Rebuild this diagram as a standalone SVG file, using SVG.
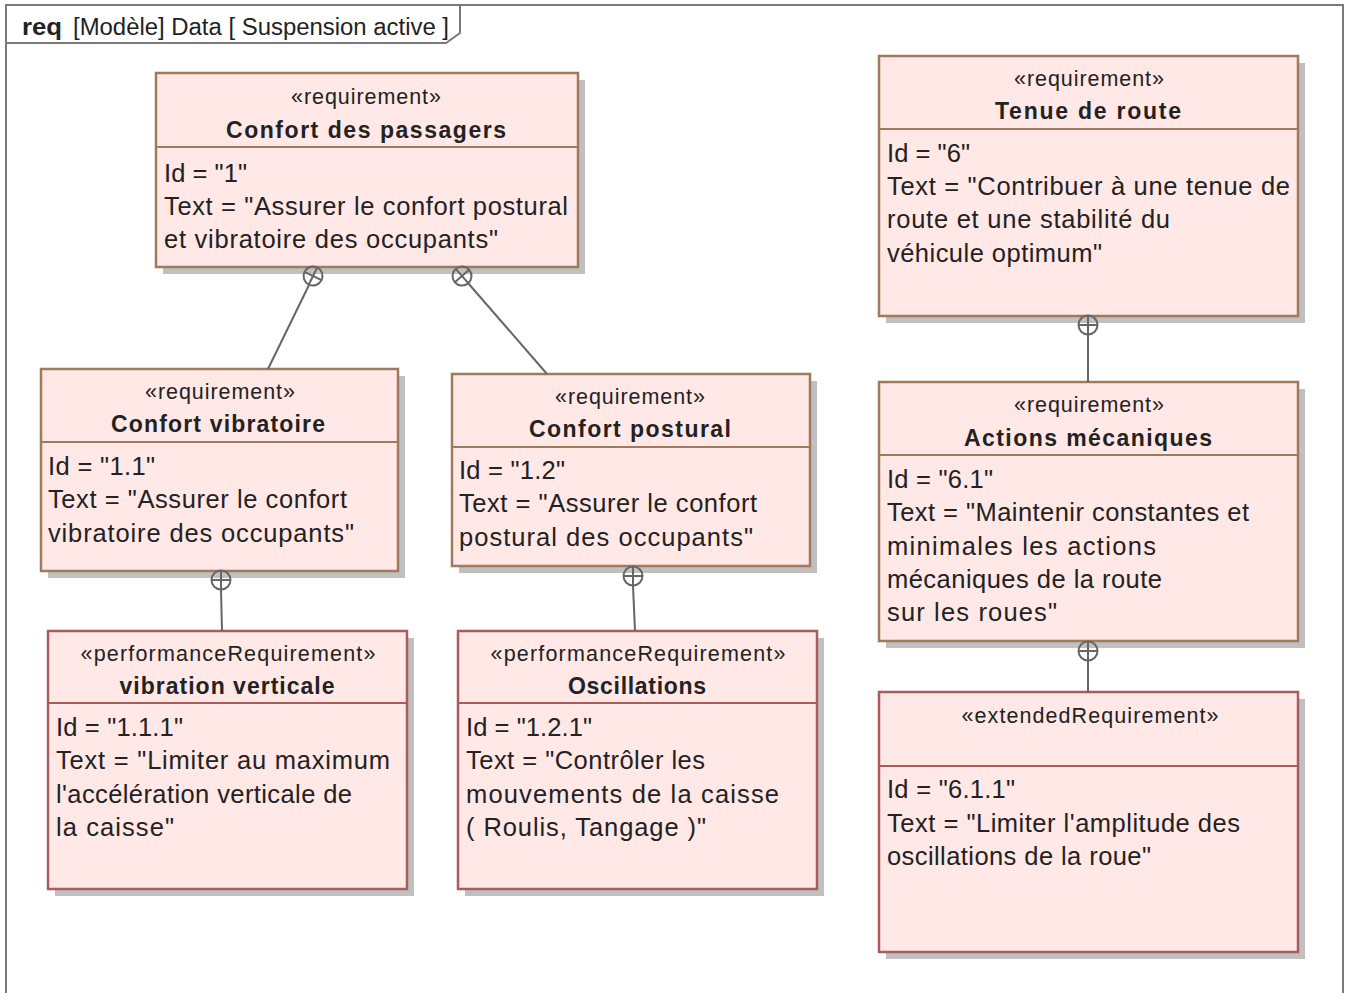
<svg xmlns="http://www.w3.org/2000/svg" width="1345" height="993" viewBox="0 0 1345 993">
<style>
.frame{fill:none;stroke:#7a7a7a;stroke-width:2}
.tab{fill:#ffffff;stroke:#7a7a7a;stroke-width:2}
.shadow{fill:#c0c0c0}
.req{fill:#ffe8e6;stroke:#a07a5c;stroke-width:2.5}
.perf{fill:#ffe8e6;stroke:#a85c5c;stroke-width:2.5}
.sepr{stroke:#a07a5c;stroke-width:2}
.sepp{stroke:#a85c5c;stroke-width:2}
text{font-family:"Liberation Sans",Arial,sans-serif;fill:#222222}
.st{font-size:21.5px;text-anchor:middle}
.nm{font-size:23px;font-weight:bold;text-anchor:middle}
.bd{font-size:25.5px}
.hd{font-size:23px}
.conn line,.conn circle{stroke:#666666;stroke-width:2;fill:none}
</style>
<g id="frame">
<path class="frame" d="M6,993 V5 H1343 V993"/>
<path class="tab" d="M6,5 H460 V33 L446,43 H6 Z"/>
<text x="22" y="35" class="hd" font-weight="bold" textLength="40" lengthAdjust="spacingAndGlyphs">req</text>
<text x="73" y="35" class="hd" textLength="376" lengthAdjust="spacingAndGlyphs">[Modèle] Data [ Suspension active ]</text>
</g>
<g id="n1">
<rect class="shadow" x="163" y="80" width="422" height="194"/>
<rect class="req" x="156" y="73" width="422" height="194"/>
<line class="sepr" x1="156" y1="147" x2="578" y2="147"/>
<text class="st" x="366" y="104" textLength="150">«requirement»</text>
<text class="nm" x="366" y="138" textLength="280">Confort des passagers</text>
<text class="bd" x="164" y="182" textLength="83">Id = "1"</text>
<text class="bd" x="164" y="215" textLength="404">Text = "Assurer le confort postural</text>
<text class="bd" x="164" y="248" textLength="334">et vibratoire des occupants"</text>
</g>
<g id="n2">
<rect class="shadow" x="48" y="376" width="357" height="202"/>
<rect class="req" x="41" y="369" width="357" height="202"/>
<line class="sepr" x1="41" y1="442" x2="398" y2="442"/>
<text class="st" x="220" y="399" textLength="150">«requirement»</text>
<text class="nm" x="218" y="432" textLength="214">Confort vibratoire</text>
<text class="bd" x="48" y="475" textLength="107">Id = "1.1"</text>
<text class="bd" x="48" y="508" textLength="299">Text = "Assurer le confort</text>
<text class="bd" x="48" y="542" textLength="306">vibratoire des occupants"</text>
</g>
<g id="n3">
<rect class="shadow" x="459" y="381" width="358" height="192"/>
<rect class="req" x="452" y="374" width="358" height="192"/>
<line class="sepr" x1="452" y1="447" x2="810" y2="447"/>
<text class="st" x="630" y="404" textLength="150">«requirement»</text>
<text class="nm" x="630" y="437" textLength="202">Confort postural</text>
<text class="bd" x="459" y="479" textLength="106">Id = "1.2"</text>
<text class="bd" x="459" y="512" textLength="298">Text = "Assurer le confort</text>
<text class="bd" x="459" y="546" textLength="294">postural des occupants"</text>
</g>
<g id="n4">
<rect class="shadow" x="55" y="638" width="359" height="258"/>
<rect class="perf" x="48" y="631" width="359" height="258"/>
<line class="sepp" x1="48" y1="703" x2="407" y2="703"/>
<text class="st" x="228" y="661" textLength="295">«performanceRequirement»</text>
<text class="nm" x="227" y="694" textLength="215">vibration verticale</text>
<text class="bd" x="56" y="736" textLength="127">Id = "1.1.1"</text>
<text class="bd" x="56" y="769" textLength="334">Text = "Limiter au  maximum</text>
<text class="bd" x="56" y="803" textLength="296">l'accélération verticale de</text>
<text class="bd" x="56" y="836" textLength="118">la caisse"</text>
</g>
<g id="n5">
<rect class="shadow" x="465" y="638" width="359" height="258"/>
<rect class="perf" x="458" y="631" width="359" height="258"/>
<line class="sepp" x1="458" y1="703" x2="817" y2="703"/>
<text class="st" x="638" y="661" textLength="295">«performanceRequirement»</text>
<text class="nm" x="637" y="694" textLength="138">Oscillations</text>
<text class="bd" x="466" y="736" textLength="126">Id = "1.2.1"</text>
<text class="bd" x="466" y="769" textLength="239">Text = "Contrôler les</text>
<text class="bd" x="466" y="803" textLength="313">mouvements de la caisse</text>
<text class="bd" x="466" y="836" textLength="240">( Roulis, Tangage )"</text>
</g>
<g id="n6">
<rect class="shadow" x="886" y="63" width="419" height="260"/>
<rect class="req" x="879" y="56" width="419" height="260"/>
<line class="sepr" x1="879" y1="129" x2="1298" y2="129"/>
<text class="st" x="1089" y="86" textLength="150">«requirement»</text>
<text class="nm" x="1088" y="119" textLength="186">Tenue de route</text>
<text class="bd" x="887" y="162" textLength="83">Id = "6"</text>
<text class="bd" x="887" y="195" textLength="403">Text = "Contribuer à une tenue de</text>
<text class="bd" x="887" y="228" textLength="283">route et une stabilité du</text>
<text class="bd" x="887" y="262" textLength="215">véhicule optimum"</text>
</g>
<g id="n7">
<rect class="shadow" x="886" y="389" width="419" height="259"/>
<rect class="req" x="879" y="382" width="419" height="259"/>
<line class="sepr" x1="879" y1="455" x2="1298" y2="455"/>
<text class="st" x="1089" y="412" textLength="150">«requirement»</text>
<text class="nm" x="1088" y="446" textLength="248">Actions mécaniques</text>
<text class="bd" x="887" y="488" textLength="106">Id = "6.1"</text>
<text class="bd" x="887" y="521" textLength="362">Text = "Maintenir constantes et</text>
<text class="bd" x="887" y="555" textLength="269">minimales les actions</text>
<text class="bd" x="887" y="588" textLength="275">mécaniques de la route</text>
<text class="bd" x="887" y="621" textLength="170">sur les roues"</text>
</g>
<g id="n8">
<rect class="shadow" x="886" y="699" width="419" height="260"/>
<rect class="perf" x="879" y="692" width="419" height="260"/>
<line class="sepp" x1="879" y1="766" x2="1298" y2="766"/>
<text class="st" x="1090" y="723" textLength="257">«extendedRequirement»</text>
<text class="bd" x="887" y="798" textLength="128">Id = "6.1.1"</text>
<text class="bd" x="887" y="832" textLength="353">Text = "Limiter l'amplitude des</text>
<text class="bd" x="887" y="865" textLength="264">oscillations de la roue"</text>
</g>
<g id="connectors" class="conn">
<g id="c1">
<line x1="309" y1="285" x2="268" y2="369"/>
<g transform="translate(313,276) rotate(26)">
<circle r="9.5"/><line x1="-9.5" y1="0" x2="9.5" y2="0"/><line x1="0" y1="-9.5" x2="0" y2="9.5"/>
</g>
</g>
<g id="c2">
<line x1="468" y1="283" x2="547" y2="374"/>
<g transform="translate(462,276) rotate(-41)">
<circle r="9.5"/><line x1="-9.5" y1="0" x2="9.5" y2="0"/><line x1="0" y1="-9.5" x2="0" y2="9.5"/>
</g>
</g>
<g id="c3">
<line x1="221" y1="590" x2="222" y2="631"/>
<g transform="translate(221,580)">
<circle r="9.5"/><line x1="-9.5" y1="0" x2="9.5" y2="0"/><line x1="0" y1="-9.5" x2="0" y2="9.5"/>
</g>
</g>
<g id="c4">
<line x1="633" y1="586" x2="635" y2="631"/>
<g transform="translate(633,576)">
<circle r="9.5"/><line x1="-9.5" y1="0" x2="9.5" y2="0"/><line x1="0" y1="-9.5" x2="0" y2="9.5"/>
</g>
</g>
<g id="c5">
<line x1="1088" y1="335" x2="1088" y2="382"/>
<g transform="translate(1088,325)">
<circle r="9.5"/><line x1="-9.5" y1="0" x2="9.5" y2="0"/><line x1="0" y1="-9.5" x2="0" y2="9.5"/>
</g>
</g>
<g id="c6">
<line x1="1088" y1="661" x2="1088" y2="692"/>
<g transform="translate(1088,651)">
<circle r="9.5"/><line x1="-9.5" y1="0" x2="9.5" y2="0"/><line x1="0" y1="-9.5" x2="0" y2="9.5"/>
</g>
</g>
</g>
</svg>
